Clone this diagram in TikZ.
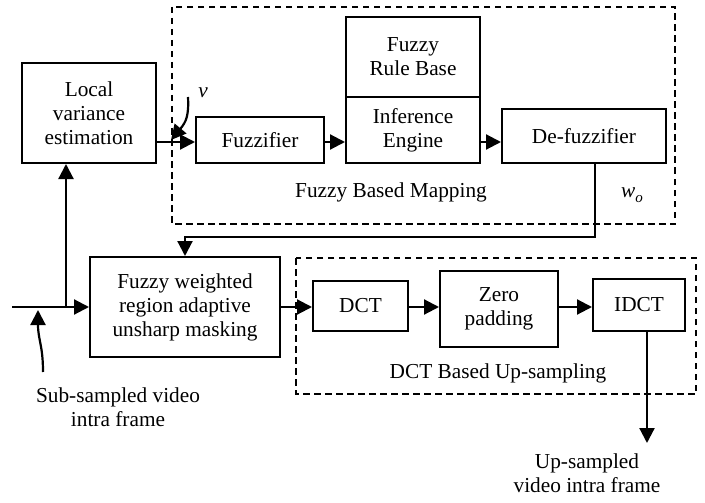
\documentclass[tikz,border=0pt]{standalone}
\usepackage{fontspec}
\setmainfont{Liberation Serif}
\usetikzlibrary{arrows.meta}
\begin{document}
\begin{tikzpicture}[x=1pt,y=-1pt,
  every node/.style={font=\fontsize{21.3}{24}\selectfont},
  blk/.style={draw,line width=2pt,align=center,inner sep=0pt},
  arr/.style={line width=2.2pt,-{Triangle[length=15pt,width=15pt]}},
  grp/.style={line width=1.5pt,dash pattern=on 6.5pt off 4.5pt}]
\useasboundingbox (0,0) rectangle (705,503);
% groups
\draw[grp] (172,7) rectangle (675,224);
\draw[grp] (296,258) rectangle (696,394);
% blocks
\node[blk,minimum width=134pt,minimum height=100pt] (local) at (89,113) {Local\\variance\\estimation};
\node[blk,minimum width=128pt,minimum height=46pt] (fuzz) at (260,140) {Fuzzifier};
\node[blk,minimum width=134pt,minimum height=80pt] (rule) at (413,57) {Fuzzy\\Rule Base};
\node[blk,minimum width=134pt,minimum height=66pt] (inf) at (413,130) {Inference\\Engine};
\node[blk,minimum width=164pt,minimum height=54pt] (defuzz) at (584,136) {De-fuzzifier};
\node[blk,minimum width=190pt,minimum height=100pt] (fw) at (185,307) {Fuzzy weighted\\region adaptive\\unsharp masking};
\node[blk,minimum width=95pt,minimum height=50pt] (dct) at (360.5,306) {DCT};
\node[blk,minimum width=118pt,minimum height=76pt] (zero) at (499,309) {Zero\\padding};
\node[blk,minimum width=92pt,minimum height=52pt] (idct) at (639,305) {IDCT};
% labels
\node (fbm) at (391,192) {Fuzzy Based Mapping};
\node (dbu) at (498,373) {DCT Based Up-sampling};
\node (wo) at (632,195) {\textit{w}\raisebox{-5pt}{\fontsize{15}{15}\selectfont\textit{o}}};
\node (v) at (203,93) {\textit{v}};
\node[align=center] (src) at (118,407) {Sub-sampled video\\intra frame};
\node[align=center] (dst) at (587,473) {Up-sampled\\video intra frame};
% coordinates
\coordinate (in) at (12,307);
\coordinate (split) at (66,307);
\coordinate (turn) at (595,237);
\coordinate (out) at (647,443);
\coordinate (vtail) at (188,97);
\coordinate (vtip) at (171,140);
\coordinate (stail) at (43,372);
\coordinate (stip) at (38,310);
% connectors
\draw[arr] (local.east |- 0,142) -- (fuzz.west |- 0,142);
\draw[arr] (fuzz.east |- 0,142) -- (inf.west |- 0,142);
\draw[arr] (inf.east |- 0,142) -- (defuzz.west |- 0,142);
\draw[arr] (defuzz.south -| turn) -- (turn) -- (turn -| fw.north) -- (fw.north);
\draw[arr] (in) -- (fw.west);
\draw[arr] (split) -- (local.south -| split);
\draw[arr] (fw.east) -- (fw.east -| dct.west);
\draw[arr] (dct.east |- 0,307) -- (zero.west |- 0,307);
\draw[arr] (zero.east |- 0,307) -- (idct.west |- 0,307);
\draw[arr] (idct.south -| out) -- (out);
\draw[arr] (vtail) .. controls (189,116) and (186,122) .. (vtip);
\draw[arr] (stail) .. controls (43,345) and (38,340) .. (stip);
\end{tikzpicture}
\end{document}
